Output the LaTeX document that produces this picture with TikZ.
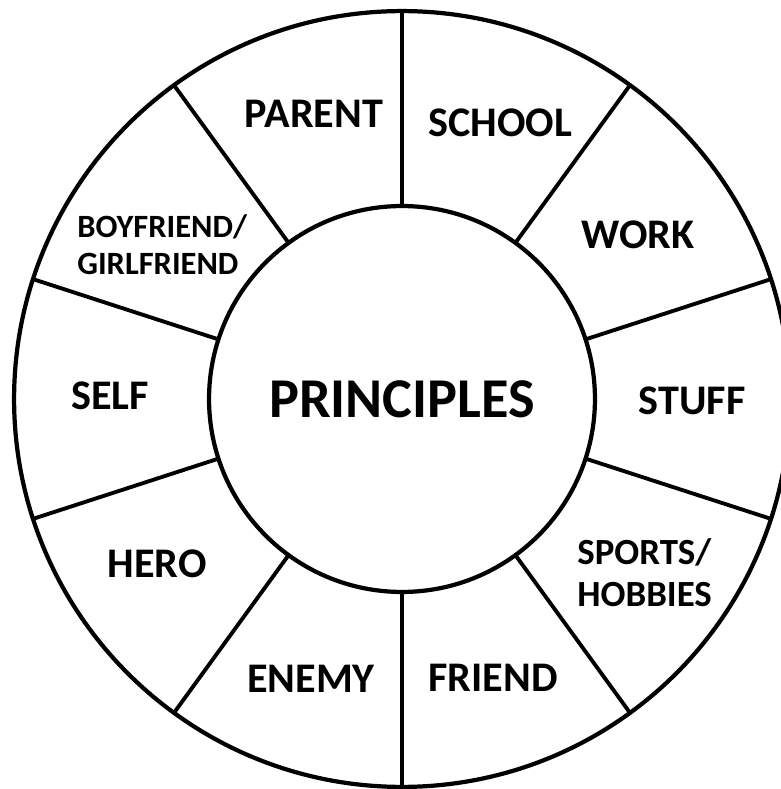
\documentclass[tikz,border=0pt]{standalone}
\usepackage{fontspec}
\setmainfont{Carlito}
\usetikzlibrary{positioning}

\begin{document}
\begin{tikzpicture}[x=0.02cm, y=0.02cm]
    % Define styles
    \tikzstyle{ring} = [draw, circle, line width=2.4pt, outer sep=0pt, inner sep=0pt]
    \tikzstyle{spoke} = [draw, line width=2.2pt]
    \tikzstyle{word} = [font=\fontsize{24}{28}\selectfont\bfseries]
    \tikzstyle{twoline} = [anchor=west, align=left, inner sep=0pt]

    \useasboundingbox (0,0) rectangle (781,789);

    % Rings
    \node[ring, minimum size=15.52cm] (rim) at (402,390) {};
    \node[ring, minimum size=7.72cm, font=\fontsize{32}{36}\selectfont\bfseries] (hub) at (402,390) {PRINCIPLES};

    % Spokes between the rings
    \foreach \a in {18,54,...,342} {
        \draw[spoke] (hub.\a) -- (rim.\a);
    }

    % Sector labels
    \foreach \x/\y/\name in {314/675/PARENT, 500/666/SCHOOL, 638/554/WORK, 692/388/STUFF,
                             493/111/FRIEND, 311/110/ENEMY, 157/225/HERO, 110/393/SELF} {
        \node[word] (\name) at (\x,\y) {\name};
    }
    \node[twoline, font=\fontsize{18.5}{21}\selectfont\bfseries] (partner) at (77,544) {BOYFRIEND/\\GIRLFRIEND};
    \node[twoline, font=\fontsize{21}{24}\selectfont\bfseries] (hobbies) at (577,216) {SPORTS/\\HOBBIES};
\end{tikzpicture}
\end{document}
